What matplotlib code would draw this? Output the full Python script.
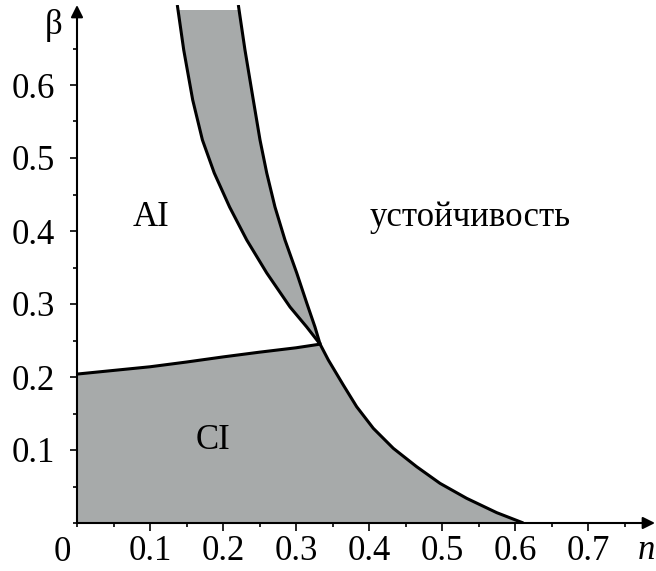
import matplotlib.pyplot as plt
from matplotlib.patches import Rectangle

# curve points (n, beta)
left_n = [0.1374, 0.1462, 0.1585, 0.1718, 0.1880, 0.2090, 0.2325,
          0.2599, 0.2918, 0.3147, 0.333]
left_b = [0.7096, 0.648, 0.5795, 0.5247, 0.4795, 0.4329, 0.3877,
          0.3425, 0.2959, 0.2685, 0.245]

right_n = [0.2210, 0.2301, 0.2415, 0.2507, 0.2599, 0.2712, 0.2849,
           0.3010, 0.3147, 0.3260, 0.333,
           0.3443, 0.3648, 0.3831, 0.4059, 0.4333, 0.4653, 0.4973,
           0.5338, 0.5749, 0.6114]
right_b = [0.7096, 0.648, 0.5795, 0.5247, 0.4795, 0.4329, 0.3877,
           0.3425, 0.3014, 0.2685, 0.245,
           0.2233, 0.1890, 0.1593, 0.1297, 0.1023, 0.0771, 0.0543,
           0.0338, 0.0142, 0.0]

low_n = [0.0, 0.05, 0.1, 0.15, 0.2, 0.25, 0.3, 0.333]
low_b = [0.204, 0.209, 0.214, 0.2205, 0.2275, 0.234, 0.240, 0.245]

xticks = [0.1, 0.2, 0.3, 0.4, 0.5, 0.6, 0.7]
yticks = [0.1, 0.2, 0.3, 0.4, 0.5, 0.6]

plt.rcParams['font.family'] = ['Liberation Serif', 'DejaVu Serif']
gray = '#a7aaaa'

fig = plt.figure(figsize=(6.56, 5.71), dpi=100)
ax = fig.add_axes([77 / 656, 48 / 571, 578 / 656, 518 / 571])
xmax = 578 / 73 / 10
ymax = 518 / 73 / 10
ax.set_xlim(0, xmax)
ax.set_ylim(0, ymax)

# index of the crossing point on the right curve
i = right_n.index(0.333)

# band between the two upper curves
band_n = left_n + right_n[:i][::-1]
band_b = left_b + right_b[:i][::-1]
band = ax.fill(band_n, band_b, color=gray, lw=0)[0]
band.set_clip_path(Rectangle((0, 0), 1, 0.703, transform=ax.transData))

# lower region
reg_n = [0.0] + low_n + right_n[i + 1:]
reg_b = [0.0] + low_b + right_b[i + 1:]
ax.fill(reg_n, reg_b, color=gray, lw=0)

ax.plot(left_n, left_b, color='k', lw=2.2, solid_capstyle='butt')
ax.plot(right_n, right_b, color='k', lw=2.2, solid_capstyle='butt')
ax.plot(low_n, low_b, color='k', lw=2.2)

for s in ax.spines.values():
    s.set_visible(False)
ax.annotate('', xy=(1, 0), xytext=(0, 0), xycoords='axes fraction',
            arrowprops=dict(arrowstyle='-|>', color='k', lw=1.5,
                            mutation_scale=18, shrinkA=0, shrinkB=0))
ax.annotate('', xy=(0, 1), xytext=(0, 0), xycoords='axes fraction',
            arrowprops=dict(arrowstyle='-|>', color='k', lw=1.5,
                            mutation_scale=18, shrinkA=0, shrinkB=0))

ax.set_xticks(xticks, [str(v) for v in xticks])
ax.set_xticks([0.05 * j for j in range(0, 16)], minor=True)
ax.set_yticks(yticks, [str(v) for v in yticks])
ax.set_yticks([0.05 * j for j in range(0, 14)], minor=True)
ax.tick_params(axis='x', which='major', direction='out', length=6, width=1.2,
               labelsize=25, pad=3)
ax.tick_params(axis='x', which='minor', direction='out', length=3, width=1.2)
ax.tick_params(axis='y', which='major', direction='out', length=5, width=1.2,
               labelsize=25, pad=11)
ax.tick_params(axis='y', which='minor', direction='out', length=3, width=1.2)

ax.text(-0.008, -0.018, '0', fontsize=25, ha='right', va='top')
ax.text(-0.032, 0.682, 'β', fontsize=25, ha='center', va='center')
ax.text(0.780, -0.038, 'n', fontsize=25, ha='center', va='center',
        style='italic')

ax.text(0.101, 0.419, 'AI', fontsize=25, ha='center', va='center')
ax.text(0.539, 0.419, 'устойчивость', fontsize=25, ha='center', va='center')
ax.text(0.186, 0.113, 'CI', fontsize=25, ha='center', va='center')

fig.savefig('out.png', dpi=100)
